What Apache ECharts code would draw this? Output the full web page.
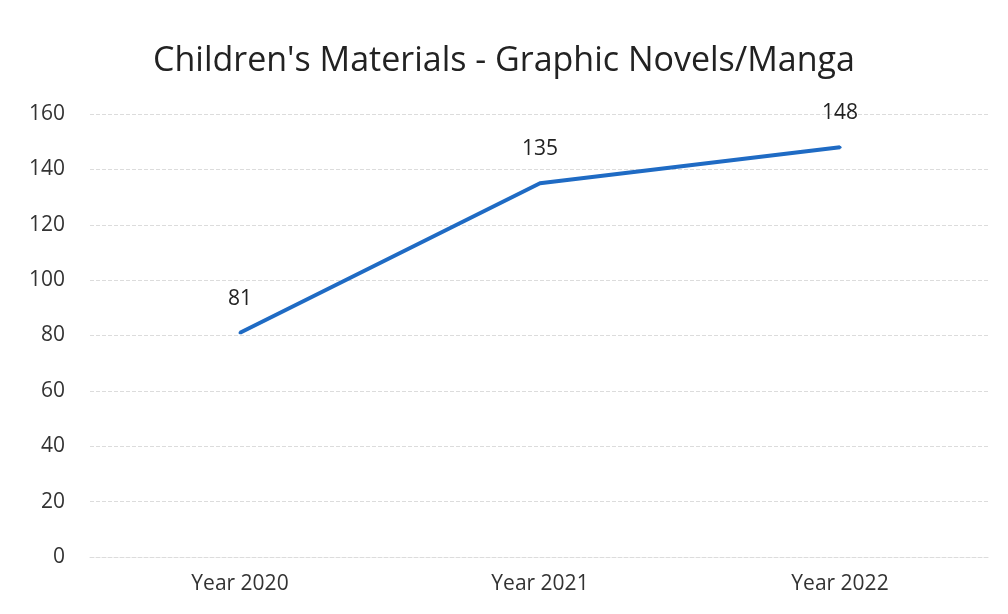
<!DOCTYPE html>
<html>
<head>
<meta charset="utf-8">
<script src="https://cdn.jsdelivr.net/npm/echarts@6/dist/echarts.min.js"></script>
<style>
  html, body { margin: 0; padding: 0; background: #fff; }
  #chart { width: 1008px; height: 614px; }
</style>
</head>
<body>
<div id="chart"></div>
<script>
// categories and values
var years = ['Year 2020', 'Year 2021', 'Year 2022'];
var counts = [81, 135, 148];

var chart = echarts.init(document.getElementById('chart'));
chart.setOption({
  backgroundColor: '#fff',
  title: {
    text: "Children's Materials - Graphic Novels/Manga",
    left: 'center',
    top: 39,
    textStyle: {
      fontFamily: 'Open Sans',
      fontSize: 34,
      fontWeight: 'normal',
      color: '#222'
    }
  },
  grid: {
    left: 90,
    right: 18,
    top: 114,
    bottom: 57
  },
  xAxis: {
    type: 'category',
    data: years,
    axisLine: { show: true, lineStyle: { color: '#dcdcdc', type: 'dashed' } },
    axisTick: { show: false },
    axisLabel: {
      margin: 17,
      fontFamily: 'Open Sans',
      fontSize: 21,
      color: '#333'
    }
  },
  yAxis: {
    type: 'value',
    min: 0,
    max: 160,
    interval: 20,
    axisLine: { show: false },
    axisTick: { show: false },
    axisLabel: {
      margin: 25,
      fontFamily: 'Open Sans',
      fontSize: 21,
      color: '#333'
    },
    splitLine: { lineStyle: { color: '#dcdcdc', type: 'dashed' } }
  },
  series: [{
    type: 'line',
    data: counts,
    symbol: 'circle',
    symbolSize: 3,
    showSymbol: true,
    itemStyle: { color: '#1f6bc4' },
    lineStyle: { color: '#1f6bc4', width: 4 },
    label: {
      show: true,
      position: 'top',
      distance: 22,
      fontFamily: 'Open Sans',
      fontSize: 21,
      color: '#222'
    }
  }]
});
</script>
</body>
</html>
